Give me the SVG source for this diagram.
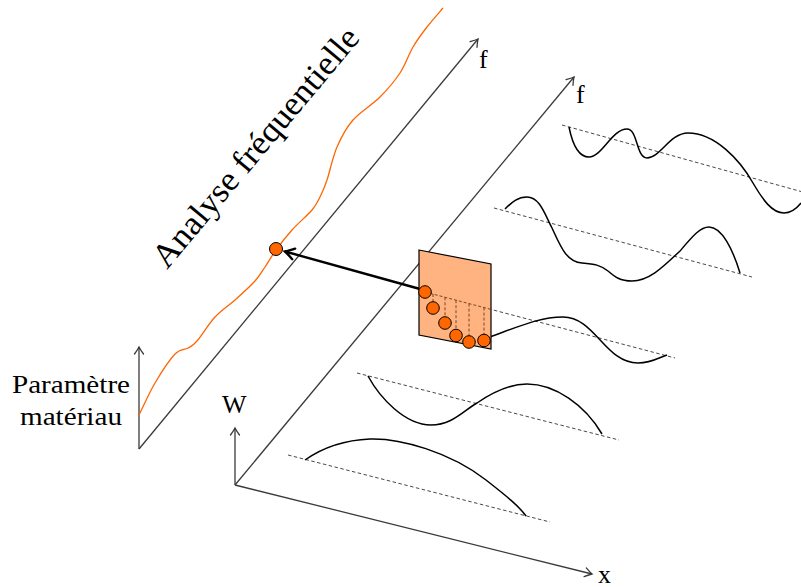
<svg xmlns="http://www.w3.org/2000/svg" width="801" height="587" viewBox="0 0 801 587">
<style>
.axis{fill:none;stroke:#3a3a3a;stroke-width:1.3}
.mode{fill:none;stroke:#000;stroke-width:1.5}
.base{fill:none;stroke:#333;stroke-width:0.9;stroke-dasharray:3.5 2.5}
.vdash{fill:none;stroke:#6b3a1a;stroke-width:0.9;stroke-dasharray:3 2}
.pt{fill:#ff6600;stroke:#000;stroke-width:1}
.lbl{font-family:"Liberation Serif","Times New Roman",serif;font-size:26px;fill:#000}
</style>
<defs>
<marker id="ah" viewBox="-9 -6 11 12" refX="0" refY="0" markerWidth="11" markerHeight="12" orient="auto" markerUnits="userSpaceOnUse">
<path d="M-7,-4.5 Q-2.5,-1.2 0,0 Q-2.5,1.2 -7,4.5" fill="none" stroke="#3a3a3a" stroke-width="1.3" stroke-linecap="round"/>
</marker>
<marker id="ahb" viewBox="-11 -7 13 14" refX="0" refY="0" markerWidth="13" markerHeight="14" orient="auto" markerUnits="userSpaceOnUse">
<path d="M-9,-5.5 Q-3,-1.5 0,0 Q-3,1.5 -9,5.5" fill="none" stroke="#000" stroke-width="2.4" stroke-linecap="round"/>
</marker>
</defs>

<g id="connectors">
<line class="axis" x1="139" y1="449" x2="139" y2="347" marker-end="url(#ah)"/>
<line class="axis" x1="139" y1="449" x2="478" y2="39" marker-end="url(#ah)"/>
<line class="axis" x1="235" y1="485" x2="235" y2="428" marker-end="url(#ah)"/>
<line class="axis" x1="235" y1="485" x2="592" y2="574" marker-end="url(#ah)"/>
<line class="axis" x1="235" y1="485" x2="574" y2="77" marker-end="url(#ah)"/>
<line x1="420" y1="289" x2="285" y2="251.5" stroke="#000" stroke-width="2.4" marker-end="url(#ahb)"/>
</g>

<g id="orange-curve">
<path fill="none" stroke="#ff6600" stroke-width="1.3" d="M139,415 C141.7,409.7 149,393.2 155,383 C161,372.8 169.5,359.8 175,354 C180.5,348.2 184.3,350.2 188,348 C191.7,345.8 192.5,346.2 197,341 C201.5,335.8 208.7,323.8 215,317 C221.3,310.2 228.3,306 235,300 C241.7,294 250,286.5 255,281 C260,275.5 261.5,272.2 265,267 C268.5,261.8 271.5,256.2 276,250 C280.5,243.8 286,236.7 292,230 C298,223.3 307.3,215.5 312,210 C316.7,204.5 317.5,202 320,197 C322.5,192 324.2,188.3 327,180 C329.8,171.7 332.7,157 337,147 C341.3,137 345.8,128.3 353,120 C360.2,111.7 372.2,104.8 380,97 C387.8,89.2 394.5,81.3 400,73 C405.5,64.7 408.5,54.7 413,47 C417.5,39.3 422,33.5 427,27 C432,20.5 440.3,11.2 443,8"/>
<circle class="pt" cx="276" cy="249" r="6.5"/>
</g>

<g id="mode1">
<line class="base" x1="288" y1="455" x2="550" y2="522"/>
<path class="mode" d="M305,460 C325,446 345,440 370,439 C400,438 450,452 486,480 C505,495 518,505 526,516"/>
</g>

<g id="mode2">
<line class="base" x1="357" y1="373" x2="619" y2="440"/>
<path class="mode" d="M368,376 C380,398 405,425 431,425 C452,425 463,411 477,403 C493,392 510,384 527,384 C555,384 585,405 602,434"/>
</g>

<g id="mode3">
<line class="base" x1="488" y1="308.6" x2="675" y2="358"/>
<path class="mode" d="M490,337 C520,326 540,317 563,317 C595,317 605,363 638,363 C652,363 660,357 667,355"/>
</g>

<g id="mode4">
<line class="base" x1="494" y1="208" x2="752" y2="277"/>
<path class="mode" d="M505,209 C512,202 518,197 527,197 C540,197 545,215 552,228 C560,245 566,262 582,263 C595,264 600,265 608,271 C615,277 620,281 632,281 C650,281 665,265 680,251 C692,237 700,227 709,227 C722,227 733,250 740,273"/>
</g>

<g id="mode5">
<line class="base" x1="562" y1="125" x2="801" y2="191.5"/>
<path class="mode" d="M569,127 C572,142 578,157 589,157 C602,157 612,129 627,129 C638,129 636,158 647,158 C660,158 670,133 688,133 C715,133 740,160 753,183 C763,200 772,213 784,213 C792,213 797,208 801,203"/>
</g>

<g id="sample-plane">
<polygon points="419,250 491,264 491,349 419,335" fill="#ffb380" stroke="#000" stroke-width="1.2"/>
<line class="vdash" x1="425" y1="292" x2="491" y2="309.4"/>
<line class="vdash" x1="433" y1="294" x2="433" y2="308"/>
<line class="vdash" x1="445" y1="297.3" x2="445" y2="323"/>
<line class="vdash" x1="456" y1="300.2" x2="456" y2="335"/>
<line class="vdash" x1="469" y1="303.6" x2="469" y2="342"/>
<line class="vdash" x1="484" y1="307.6" x2="484" y2="340"/>
<circle class="pt" cx="425" cy="292" r="6.3"/>
<circle class="pt" cx="433" cy="308" r="6.3"/>
<circle class="pt" cx="445" cy="323" r="6.3"/>
<circle class="pt" cx="456" cy="335.5" r="6.3"/>
<circle class="pt" cx="469" cy="342" r="6.3"/>
<circle class="pt" cx="484" cy="340.5" r="6.3"/>
</g>

<g id="labels">
<text class="lbl" x="479" y="68">f</text>
<text class="lbl" x="576" y="103">f</text>
<text class="lbl" x="222" y="413">W</text>
<text class="lbl" x="598" y="583">x</text>
<text class="lbl" x="71" y="393" text-anchor="middle" textLength="118" lengthAdjust="spacingAndGlyphs">Paramètre</text>
<text class="lbl" x="71" y="425" text-anchor="middle" textLength="102" lengthAdjust="spacingAndGlyphs">matériau</text>
<text class="lbl" transform="translate(167,270) rotate(-50)" style="font-size:34px" textLength="302" lengthAdjust="spacingAndGlyphs">Analyse fréquentielle</text>
</g>
</svg>
